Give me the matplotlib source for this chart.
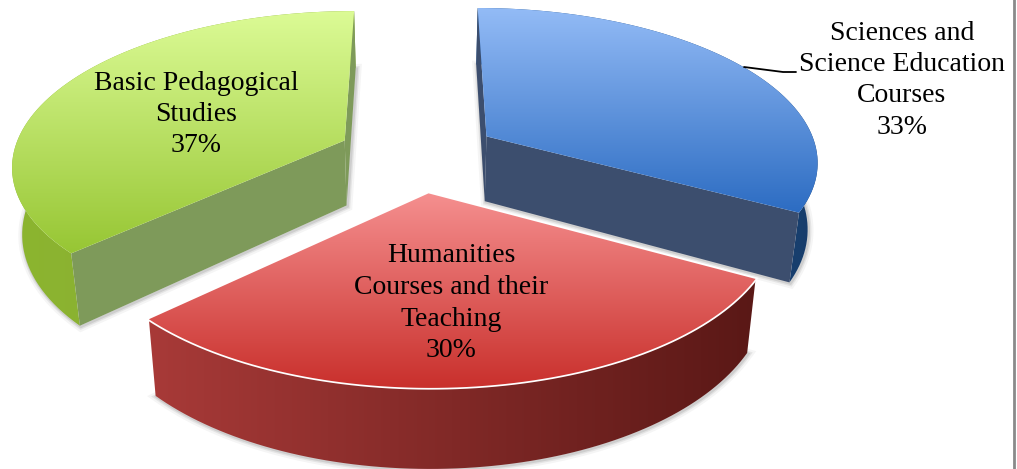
import numpy as np
import matplotlib
matplotlib.use("Agg")
import matplotlib.pyplot as plt
from matplotlib.colors import LinearSegmentedColormap
from matplotlib.patches import Polygon

# data, in pie order starting at 12 o'clock going clockwise
labels = ["Sciences and\nScience Education\nCourses", "Humanities\nCourses and their\nTeaching", "Basic Pedagogical\nStudies"]
shares = [33, 30, 37]

top_colors = [("#93bbf6", "#2c6cc2"), ("#f58f8f", "#c9302c"), ("#dcfb96", "#97c634")]
outer_colors = [("#1f5595", "#173d6b"), ("#a83a38", "#5a1816"), ("#8cb52f", "#86a83a")]
radial_colors = ["#3c4e6e", None, "#7e9a5a"]  # red cut faces point away from us
label_pos = [(902, 33), (451, 256), (196, 83)]

# projection settings, tuned by eye
CX, CY = 418, 155
RADIUS = 332
EXPLODE = 81
PITCH = 0.46
PERSP = 0.00045
HEIGHT = 66
BOTTOM_SHRINK = 0.975


def project(x, v):
    s = 1 / (1 - PERSP * v)
    return CX + x * s, CY + PITCH * v * s, s


def wedge_points(start, end):
    mid = np.radians((start + end) / 2)
    ox, ov = EXPLODE * np.sin(mid), -EXPLODE * np.cos(mid)
    theta = np.radians(np.linspace(start, end, 80))
    xs, ys, ss = project(ox + RADIUS * np.sin(theta), ov - RADIUS * np.cos(theta))
    ax_, ay_, as_ = project(ox, ov)
    return (ax_, ay_, as_), xs, ys, ss


def bottom(x, y, s):
    return CX + (x - CX) * BOTTOM_SHRINK, y + HEIGHT * s


def gradient_poly(ax, pts, c0, c1, z, horizontal=False):
    pts = np.asarray(pts)
    cmap = LinearSegmentedColormap.from_list("g", [c0, c1])
    grad = np.linspace(0, 1, 256)
    grad = grad[None, :] if horizontal else grad[:, None]
    x0, x1 = pts[:, 0].min(), pts[:, 0].max()
    y0, y1 = pts[:, 1].min(), pts[:, 1].max()
    im = ax.imshow(grad, cmap=cmap, extent=(x0, x1, y1, y0), aspect="auto", origin="upper",
                   interpolation="bilinear", zorder=z)
    patch = Polygon(pts, closed=True, transform=ax.transData, fc="none", ec="none")
    ax.add_patch(patch)
    im.set_clip_path(patch)


fig = plt.figure(figsize=(10.17, 4.69), dpi=100)
ax = fig.add_axes([0, 0, 1, 1])
plt.rcParams["font.family"] = ["Liberation Serif"]

angles = np.cumsum([0] + shares) * 3.6

# back wedges first, red one sits in front
z = 1
for i in [2, 0, 1]:
    (ax0, ay0, as0), xs, ys, ss = wedge_points(angles[i], angles[i + 1])
    bx, by = bottom(xs, ys, ss)
    abx, aby = bottom(ax0, ay0, as0)

    # soft shadow under the block
    outline = np.column_stack([np.r_[abx, bx], np.r_[aby, by]])
    for lw, a in [(7, 0.06), (4, 0.1), (2, 0.15)]:
        ax.add_patch(Polygon(outline + [1, 1], closed=True, fc="none", ec="#555555", lw=lw, alpha=a, zorder=z))
    z += 1

    outer = np.column_stack([np.r_[xs, bx[::-1]], np.r_[ys, by[::-1]]])
    gradient_poly(ax, outer, outer_colors[i][0], outer_colors[i][1], z, horizontal=True)
    z += 1

    if radial_colors[i]:
        for k in [0, -1]:
            side = [(ax0, ay0), (xs[k], ys[k]), (bx[k], by[k]), (abx, aby)]
            ax.add_patch(Polygon(side, closed=True, fc=radial_colors[i], ec="none", zorder=z))
        z += 1

    top = np.column_stack([np.r_[ax0, xs], np.r_[ay0, ys]])
    if i == 1:
        ax.add_patch(Polygon(top, closed=True, fc="none", ec="white", lw=2.5, zorder=z))
        z += 1
    gradient_poly(ax, top, top_colors[i][0], top_colors[i][1], z)
    z += 1

# leader line for the blue label
ax.plot([744, 783, 796], [67, 72, 72], color="black", lw=1.3, solid_capstyle="round", zorder=z)

# right page border
ax.plot([1014, 1014], [0, 469], color="#8a8a8a", lw=2, zorder=z)

for name, share, (lx, ly) in zip(labels, shares, label_pos):
    for j, line in enumerate((name + f"\n{share}%").split("\n")):
        ax.text(lx, ly + j * 31.5, line, ha="center", va="center", fontsize=20, color="black", zorder=z + 1)

ax.set_xlim(0, 1017)
ax.set_ylim(469, 0)
ax.axis("off")
fig.savefig("out.png", dpi=100, facecolor="white")
